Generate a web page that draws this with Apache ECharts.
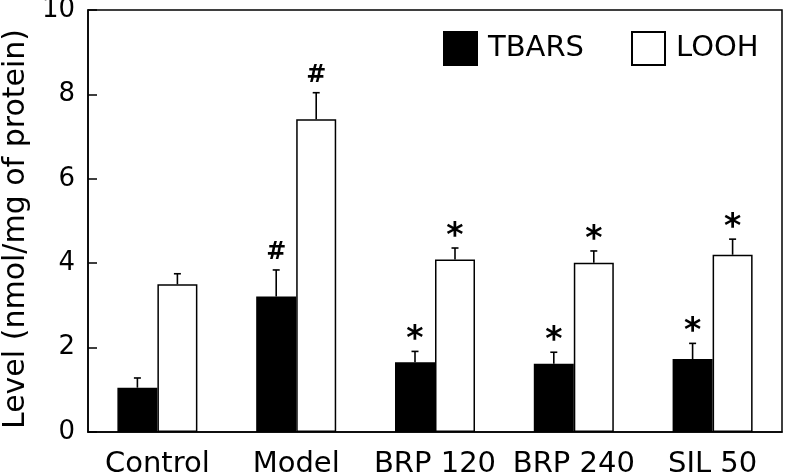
<!DOCTYPE html>
<html>
<head>
<meta charset="utf-8">
<script src="https://cdn.jsdelivr.net/npm/echarts@6/dist/echarts.min.js"></script>
<style>html,body{margin:0;padding:0;background:#fff;}#c{width:786px;height:474px;}</style>
</head>
<body>
<div id="c"></div>
<script>
var categories = ["Control", "Model", "BRP 120", "BRP 240", "SIL 50"];
var tbars = [1.05, 3.21, 1.65, 1.62, 1.73];
var tbarsErr = [0.23, 0.63, 0.26, 0.27, 0.37];
var looh = [3.50, 7.41, 4.09, 4.01, 4.20];
var loohErr = [0.25, 0.63, 0.27, 0.28, 0.37];
var tbarsMarks = ["", "#", "*", "*", "*"];
var loohMarks = ["", "#", "*", "*", "*"];
var yTicks = [0, 2, 4, 6, 8, 10];

var FONT = "DejaVu Sans";
var BW = 40;

function errSeries(name, vals, errs, marks, side) {
  var data = vals.map(function (v, i) { return [i, v, errs[i], marks[i]]; });
  return {
    type: 'custom',
    name: name + 'err',
    z: 5,
    silent: true,
    data: data,
    renderItem: function (params, api) {
      var i = api.value(0), v = api.value(1), e = api.value(2);
      var mark = data[params.dataIndex][3];
      var base = api.coord([i, v]);
      var top = api.coord([i, v + e]);
      var x = base[0] + side * BW / 2;
      var children = [
        { type: 'line', shape: { x1: x, y1: base[1], x2: x, y2: top[1] }, style: { stroke: '#000', lineWidth: 1.6 } },
        { type: 'line', shape: { x1: x - 3.5, y1: top[1], x2: x + 3.5, y2: top[1] }, style: { stroke: '#000', lineWidth: 1.6 } }
      ];
      if (mark) {
        var isStar = mark === '*';
        children.push({
          type: 'text',
          style: {
            x: x, y: top[1] - (isStar ? 11 : 5),
            text: mark,
            fill: '#000',
            font: (isStar ? 'bold 33px ' : 'bold 24px ') + FONT,
            align: 'center',
            verticalAlign: isStar ? 'middle' : 'bottom'
          }
        });
      }
      return { type: 'group', children: children };
    }
  };
}

var chart = echarts.init(document.getElementById('c'), null, { renderer: 'canvas' });
chart.setOption({
  animation: false,
  backgroundColor: '#fff',
  grid: { left: 88, right: 4, top: 10, bottom: 42, show: true, borderColor: '#000', borderWidth: 1.5,
          backgroundColor: 'transparent', outerBoundsMode: 'none', containLabel: false },
  legend: {
    left: 443, top: 31, padding: 0,
    itemWidth: 33, itemHeight: 33, itemGap: 47,
    icon: 'rect',
    data: ['TBARS', 'LOOH'],
    textStyle: { fontFamily: FONT, fontSize: 29, color: '#000', padding: [0, 0, 0, 6] },
    selectedMode: false
  },
  xAxis: {
    type: 'category',
    data: categories,
    axisLine: { lineStyle: { color: '#000', width: 1.5 } },
    axisTick: { inside: true, length: 9, lineStyle: { color: '#000', width: 1.5 } },
    axisLabel: { interval: 0, fontFamily: FONT, fontSize: 29, color: '#000', margin: 18 }
  },
  yAxis: {
    type: 'value',
    min: yTicks[0], max: yTicks[yTicks.length - 1], interval: 2,
    name: 'Level (nmol/mg of protein)',
    nameLocation: 'middle',
    nameGap: 57,
    nameTextStyle: { fontFamily: FONT, fontSize: 30, color: '#000', padding: [0, 16, 0, 0] },
    axisLine: { show: true, lineStyle: { color: '#000', width: 1.5 } },
    axisTick: { show: true, inside: true, length: 9, lineStyle: { color: '#000', width: 1.5 } },
    axisLabel: { fontFamily: FONT, fontSize: 26, color: '#000', margin: 13 },
    splitLine: { show: false }
  },
  series: [
    { name: 'TBARS', type: 'bar', data: tbars, barWidth: BW, barGap: '0%',
      itemStyle: { color: '#000', borderColor: '#000', borderWidth: 1.5 } },
    { name: 'LOOH', type: 'bar', data: looh, barWidth: BW, barGap: '0%',
      itemStyle: { color: '#fff', borderColor: '#000', borderWidth: 1.5 } },
    errSeries('TBARS', tbars, tbarsErr, tbarsMarks, -1),
    errSeries('LOOH', looh, loohErr, loohMarks, 1)
  ]
});
</script>
</body>
</html>
